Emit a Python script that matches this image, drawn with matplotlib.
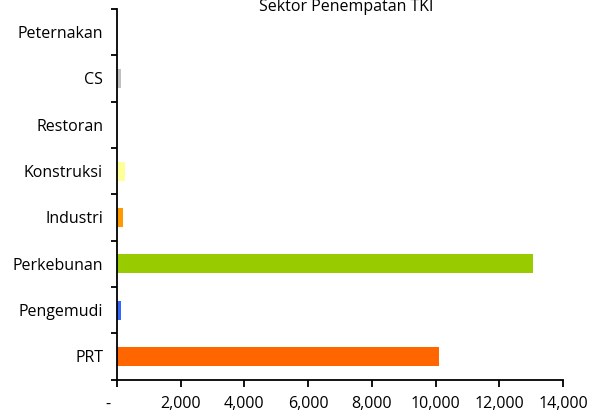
import numpy as np
import matplotlib
matplotlib.use("Agg")
import matplotlib.pyplot as plt
from matplotlib.ticker import FixedLocator, FuncFormatter

# data (bottom -> top)
sectors = ["PRT", "Pengemudi", "Perkebunan", "Industri", "Konstruksi", "Restoran", "CS", "Peternakan"]
workers = [10100, 130, 13060, 190, 260, 0, 130, 0]
bar_colors = ["#FF6600", "#3366FF", "#99CC00", "#FF9900", "#FFFF99", "#FFFFFF", "#C0C0C0", "#FFFFFF"]
x_ticks = [0, 2000, 4000, 6000, 8000, 10000, 12000, 14000]

plt.rcParams['font.family'] = ['Open Sans', 'DejaVu Sans']

fig = plt.figure(figsize=(6.01, 4.2), dpi=100)
W, H = 601, 420
ax = fig.add_axes([117/W, 1-379.5/H, (563-117)/W, (379.5-9)/H])

pos = np.arange(len(sectors))
ax.barh(pos, workers, height=0.41, color=bar_colors)

ax.set_xlim(0, 14000)
ax.set_ylim(-0.5, len(sectors)-0.5)

for s in ["top", "right"]:
    ax.spines[s].set_visible(False)
for s in ["left", "bottom"]:
    ax.spines[s].set_linewidth(1.3)
    ax.spines[s].set_color("black")

# x axis, excel accounting style
def fmt(v, p):
    if v == 0:
        return "-    "
    return "{:,.0f}".format(v)
ax.xaxis.set_major_locator(FixedLocator(x_ticks))
ax.xaxis.set_major_formatter(FuncFormatter(fmt))
ax.tick_params(axis="x", direction="out", length=5, width=1.3, pad=7, labelsize=11.5, colors="black")

# y axis: labels at centres, ticks at boundaries
ax.set_yticks(pos)
ax.set_yticklabels(sectors)
ax.tick_params(axis="y", which="major", length=0, pad=10, labelsize=11.5)
ax.set_yticks(np.arange(-0.5, len(sectors)), minor=True)
ax.tick_params(axis="y", which="minor", direction="out", length=4, width=1.3)

fig.text(346/W, 1-11/H, "Sektor Penempatan TKI", ha="center", va="baseline", fontsize=11.5)

fig.savefig("out.png", dpi=100)
